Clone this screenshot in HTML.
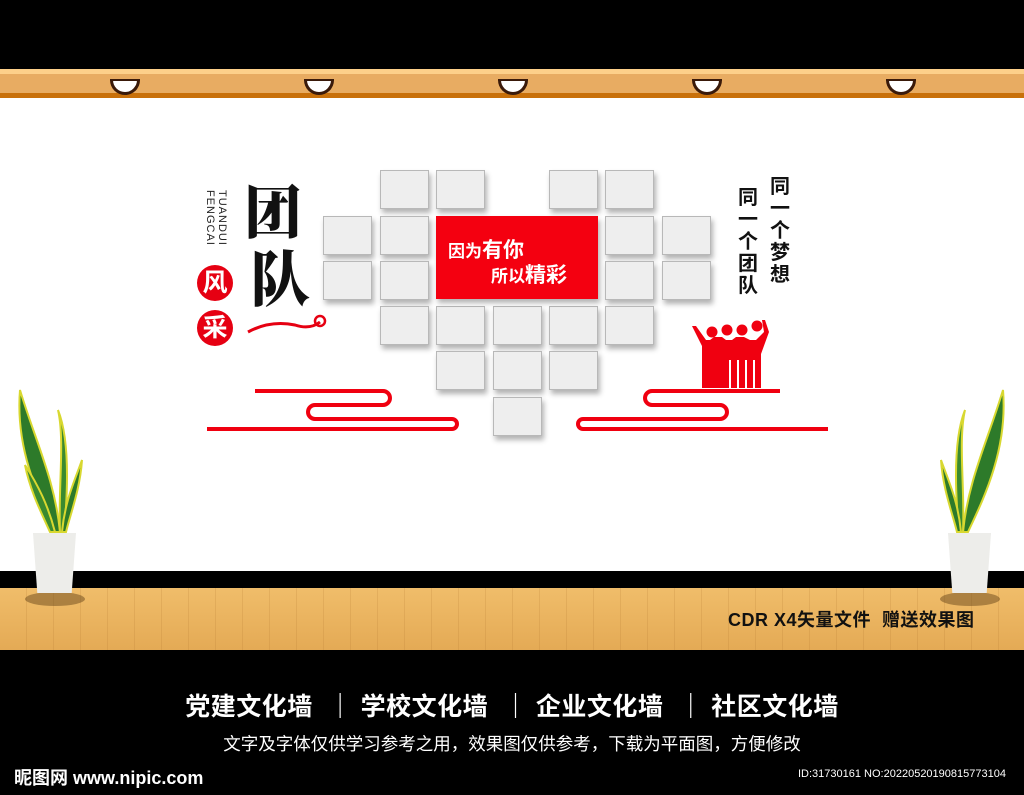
<!DOCTYPE html>
<html><head><meta charset="utf-8"><style>
*{margin:0;padding:0;box-sizing:border-box}
body{width:1024px;height:795px;position:relative;overflow:hidden;background:#fff;font-family:"Liberation Sans","Noto Sans CJK SC",sans-serif}
.a{position:absolute}
.f{position:absolute;width:49px;height:39px;background:#eeeeee;border:1px solid #b8b8b8;box-shadow:2px 4px 5px rgba(0,0,0,.3)}
.lamp{position:absolute;top:79px;width:30px;height:16px;background:#fff;border:3px solid #3a1a0a;border-top-width:2px;border-radius:0 0 15px 15px}
.v{position:absolute;writing-mode:vertical-rl;font-size:11px;line-height:11px;width:11px;color:#222;letter-spacing:1px;white-space:nowrap}
</style></head><body>
<div class="a" style="left:0;top:0;width:1024px;height:69px;background:#000"></div>
<div class="a" style="left:0;top:69px;width:1024px;height:5px;background:#fdd08a"></div>
<div class="a" style="left:0;top:74px;width:1024px;height:19px;background:#e8ac62"></div>
<div class="a" style="left:0;top:93px;width:1024px;height:5px;background:#c8700a"></div>
<div class="lamp" style="left:110px"></div><div class="lamp" style="left:304px"></div><div class="lamp" style="left:498px"></div><div class="lamp" style="left:692px"></div><div class="lamp" style="left:886px"></div>

<div class="f" style="left:380px;top:170px"></div><div class="f" style="left:436px;top:170px"></div><div class="f" style="left:549px;top:170px"></div><div class="f" style="left:605px;top:170px"></div>
<div class="f" style="left:323px;top:216px"></div><div class="f" style="left:380px;top:216px"></div><div class="f" style="left:605px;top:216px"></div><div class="f" style="left:662px;top:216px"></div>
<div class="f" style="left:323px;top:261px"></div><div class="f" style="left:380px;top:261px"></div><div class="f" style="left:605px;top:261px"></div><div class="f" style="left:662px;top:261px"></div>
<div class="f" style="left:380px;top:306px"></div><div class="f" style="left:436px;top:306px"></div><div class="f" style="left:493px;top:306px"></div><div class="f" style="left:549px;top:306px"></div><div class="f" style="left:605px;top:306px"></div>
<div class="f" style="left:436px;top:351px"></div><div class="f" style="left:493px;top:351px"></div><div class="f" style="left:549px;top:351px"></div>
<div class="f" style="left:493px;top:397px"></div>
<div class="a" style="left:436px;top:216px;width:162px;height:83px;background:#f40010;box-shadow:2px 4px 5px rgba(0,0,0,.3);color:#fff;font-weight:bold">
 <div class="a" style="left:12px;top:18px;font-size:17px">因为<span style="font-size:21px">有你</span></div>
 <div class="a" style="left:55px;top:43px;font-size:17px">所以<span style="font-size:21px">精彩</span></div>
</div>

<div class="v" style="left:216px;top:190px">TUANDUI</div>
<div class="v" style="left:204px;top:190px">FENGCAI</div>
<div class="a" style="left:244px;top:178px;font-size:58px;font-family:'Noto Serif CJK SC',serif;font-weight:900;color:#111;line-height:60px">团</div>
<div class="a" style="left:250px;top:245px;font-size:60px;font-family:'Noto Serif CJK SC',serif;font-weight:900;color:#111;line-height:62px">队</div>
<div class="a" style="left:197px;top:265px;width:36px;height:36px;border-radius:50%;background:#e60012;color:#fff;font-size:25px;font-weight:bold;text-align:center;line-height:36px">风</div>
<div class="a" style="left:197px;top:310px;width:36px;height:36px;border-radius:50%;background:#e60012;color:#fff;font-size:25px;font-weight:bold;text-align:center;line-height:36px">采</div>
<div class="a" style="left:738px;top:187px;width:24px;font-size:20px;line-height:22px;font-weight:bold;color:#111">同一个团队</div>
<div class="a" style="left:770px;top:176px;width:24px;font-size:20px;line-height:22px;font-weight:bold;color:#111">同一个梦想</div>

<svg class="a" style="left:0;top:0" width="1024" height="795">
<path d="M248 332 Q270 320 295 325 Q310 330 320 322" stroke="#e60012" stroke-width="3" fill="none"/>
<circle cx="320" cy="321" r="5" stroke="#e60012" stroke-width="2.5" fill="none"/>
<g stroke="#f00010" stroke-width="4" fill="none">
<path d="M255 391 H383 a7 7 0 0 1 0 14 H315 a7 7 0 0 0 0 14 H452 a5 5 0 0 1 0 10 H207"/>
<path d="M780 391 H652 a7 7 0 0 0 0 14 H720 a7 7 0 0 1 0 14 H583 a5 5 0 0 0 0 10 H828"/>
</g>
<g fill="#f00010">
<path d="M702 388 V346 l-10 -20 h4 l10 14 h4 l4 -3 h8 l4 3 h6 l4 -3 h8 l6 3 h6 l8 -8 l-2 -12 h3 l4 12 l-8 22 V388 h-6 V360 h-2 V388 h-6 V360 h-2 V388 h-6 V360 h-2 V388 h-6 V360 h-2 V388 Z"/>
<circle cx="712" cy="332" r="5.5"/><circle cx="727" cy="330" r="5.5"/><circle cx="742" cy="330" r="5.5"/><circle cx="757" cy="326" r="5.5"/>
</g>
<g>
<path d="M55 532 C40 500 15 450 20 390 C35 440 55 480 60 532Z" fill="#2d7a2a" stroke="#d8d830" stroke-width="2"/>
<path d="M60 532 C58 490 65 440 58 410 C70 440 68 490 64 532Z" fill="#3a8a30" stroke="#d8d830" stroke-width="2"/>
<path d="M62 532 C65 500 75 480 82 460 C80 490 70 515 66 532Z" fill="#2d7a2a" stroke="#d8d830" stroke-width="2"/>
<path d="M50 532 C40 510 30 490 25 465 C38 485 48 505 55 532Z" fill="#3a8a30" stroke="#d8d830" stroke-width="2"/>
<path d="M968 532 C983 500 1008 450 1003 390 C988 440 968 480 963 532Z" fill="#2d7a2a" stroke="#d8d830" stroke-width="2"/>
<path d="M963 532 C965 490 958 440 965 410 C953 440 955 490 959 532Z" fill="#3a8a30" stroke="#d8d830" stroke-width="2"/>
<path d="M961 532 C958 500 948 480 941 460 C943 490 953 515 957 532Z" fill="#2d7a2a" stroke="#d8d830" stroke-width="2"/>
</g>
</svg>

<div class="a" style="left:0;top:571px;width:1024px;height:17px;background:#000"></div>
<div class="a" style="left:0;top:588px;width:1024px;height:62px;background:linear-gradient(180deg,#f0bd6a,#e4aa55)"></div>
<div class="a" style="left:0;top:588px;width:1024px;height:62px;background:repeating-linear-gradient(90deg,transparent 0 26px,rgba(170,110,40,.25) 26px 27px);opacity:.7"></div>
<div class="a" style="left:25px;top:592px;width:60px;height:14px;border-radius:50%;background:rgba(90,60,20,.45)"></div>
<div class="a" style="left:940px;top:592px;width:60px;height:14px;border-radius:50%;background:rgba(90,60,20,.45)"></div>
<div class="a" style="left:33px;top:533px;width:43px;height:60px;background:#ededea;clip-path:polygon(0 0,100% 0,90% 100%,10% 100%)"></div>
<div class="a" style="left:948px;top:533px;width:43px;height:60px;background:#ededea;clip-path:polygon(0 0,100% 0,90% 100%,10% 100%)"></div>
<div class="a" style="left:728px;top:606px;font-size:18px;font-weight:bold;color:#111;letter-spacing:0.5px">CDR X4矢量文件&nbsp; 赠送效果图</div>

<div class="a" style="left:0;top:687px;width:1024px;height:0"></div>
<div class="a" style="left:0;top:650px;width:1024px;height:145px;background:#000"></div>
<div class="a" style="left:0;top:687px;width:1024px;text-align:center;color:#fff;font-size:25px;font-weight:bold;letter-spacing:0.5px">党建文化墙 &nbsp;｜ 学校文化墙 &nbsp;｜ 企业文化墙 &nbsp;｜ 社区文化墙</div>
<div class="a" style="left:0;top:731px;width:1024px;text-align:center;color:#fff;font-size:17.5px">文字及字体仅供学习参考之用，效果图仅供参考，下载为平面图，方便修改</div>
<div class="a" style="left:14px;top:764px;color:#fff;font-size:18px;font-weight:bold">昵图网 www.nipic.com</div>
<div class="a" style="left:798px;top:768px;color:#fff;font-size:11px">ID:31730161 NO:20220520190815773104</div>
</body></html>
